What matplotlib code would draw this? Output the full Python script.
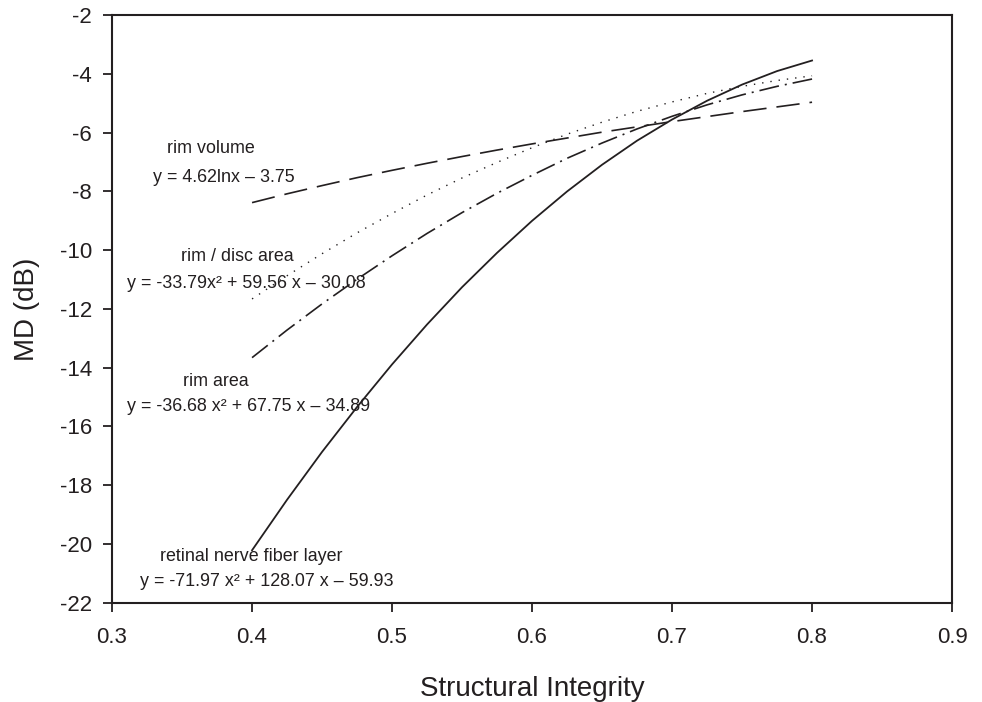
import numpy as np
import matplotlib
matplotlib.use('Agg')
import matplotlib.pyplot as plt

plt.rcParams['font.family'] = ['Liberation Sans', 'DejaVu Sans']
plt.rcParams['axes.unicode_minus'] = False

# structural integrity values along each fitted curve
x = [0.4, 0.425, 0.45, 0.475, 0.5, 0.525, 0.55, 0.575, 0.6,
     0.625, 0.65, 0.675, 0.7, 0.725, 0.75, 0.775, 0.8]

# MD (dB)
rim_volume = [-8.38, -8.08, -7.80, -7.53, -7.28, -7.04, -6.81, -6.59, -6.38,
              -6.18, -5.98, -5.80, -5.62, -5.45, -5.28, -5.12, -4.96]
rim_disc = [-11.66, -10.87, -10.12, -9.41, -8.75, -8.12, -7.54, -7.01, -6.51,
            -6.05, -5.64, -5.27, -4.95, -4.66, -4.42, -4.22, -4.06]
rim_area = [-13.66, -12.72, -11.83, -10.99, -10.19, -9.43, -8.72, -8.06, -7.45,
            -6.87, -6.35, -5.87, -5.44, -5.05, -4.71, -4.42, -4.17]
rnfl = [-20.22, -18.50, -16.87, -15.34, -13.89, -12.53, -11.26, -10.09, -9.00,
        -8.00, -7.09, -6.27, -5.55, -4.91, -4.36, -3.90, -3.54]

xticks = [0.3, 0.4, 0.5, 0.6, 0.7, 0.8, 0.9]
yticks = list(range(-22, -1, 2))

ink = '#231f20'

fig = plt.figure(figsize=(9.82, 7.02), dpi=100)
ax = fig.add_axes([0.1141, 0.1417, 0.8554, 0.8365])

ax.plot(x, rim_volume, color=ink, lw=1.2, dashes=(14, 6))
ax.plot(x, rim_disc, color=ink, lw=1.0, dashes=(1, 5))
ax.plot(x, rim_area, color=ink, lw=1.2, dashes=(12, 3.6, 1.2, 3.6))
ax.plot(x, rnfl, color=ink, lw=1.3)

# labels next to the curves
fs = 12.9
ax.text(0.3393, -6.55, 'rim volume', fontsize=fs, color=ink, ha='left', va='center')
ax.text(0.3293, -7.51, 'y = 4.62lnx \u2013 3.75', fontsize=fs, color=ink, ha='left', va='center')
ax.text(0.3493, -10.23, 'rim / disc area', fontsize=fs, color=ink, ha='left', va='center')
ax.text(0.3107, -11.15, 'y = -33.79x\u00b2 + 59.56 x \u2013 30.08', fontsize=fs, color=ink,
        ha='left', va='center')
ax.text(0.3507, -14.46, 'rim area', fontsize=fs, color=ink, ha='left', va='center')
ax.text(0.3107, -15.34, 'y = -36.68 x\u00b2 + 67.75 x \u2013 34.89', fontsize=fs, color=ink,
        ha='left', va='center')
ax.text(0.3343, -20.42, 'retinal nerve fiber layer', fontsize=fs, color=ink, ha='left', va='center')
ax.text(0.32, -21.30, 'y = -71.97 x\u00b2 + 128.07 x \u2013 59.93', fontsize=fs, color=ink,
        ha='left', va='center')

ax.set_xlim(0.3, 0.9)
ax.set_ylim(-22, -2)
ax.set_xticks(xticks)
ax.set_xticklabels([f'{t:.1f}' for t in xticks])
ax.set_yticks(yticks)
ax.set_yticklabels([str(t) for t in yticks])

ax.tick_params(direction='out', length=6.5, width=1.3, pad=8, labelsize=16,
               colors=ink, top=False, right=False)
ax.tick_params(axis='x', pad=11)
for s in ax.spines.values():
    s.set_linewidth(1.5)
    s.set_color(ink)

ax.set_xlabel('Structural Integrity', fontsize=20, color=ink, labelpad=20)
ax.set_ylabel('MD (dB)', fontsize=20, color=ink, labelpad=14)

fig.savefig('out.png', dpi=100)
